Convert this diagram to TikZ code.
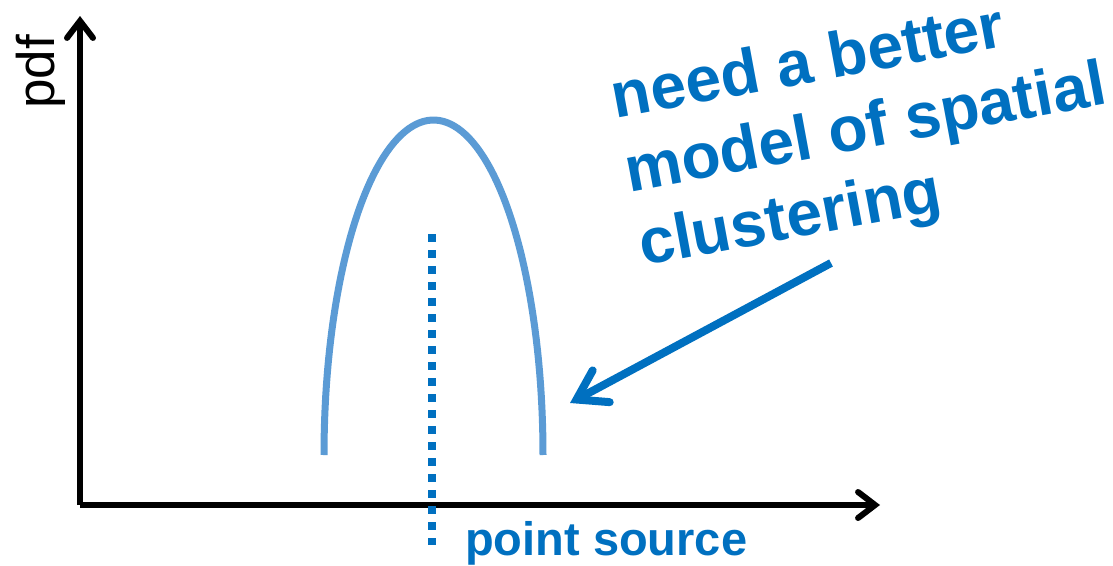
\documentclass[tikz,border=0pt]{standalone}
\usepackage{fontspec}
\setmainfont{Liberation Sans}
\usepackage{tikz}
\usetikzlibrary{arrows.meta}
\definecolor{curveblue}{RGB}{91,155,213}
\definecolor{noteblue}{RGB}{0,112,192}

\begin{document}
\begin{tikzpicture}[x=1pt,y=-1pt]
  \tikzstyle{axis}=[line width=6pt,-{Straight Barb[length=17pt,width=26pt,line cap=round]}]
  \tikzstyle{pointer}=[noteblue,line width=8pt,-{Straight Barb[length=28pt,width=36pt,line cap=round]}]
  \tikzstyle{note}=[noteblue,font=\bfseries\fontsize{64}{75}\selectfont,align=left,inner sep=0pt]

  \useasboundingbox (0,0) rectangle (1113,565);

  \coordinate (O) at (80,505);
  \coordinate (Y) at (80,16);
  \coordinate (X) at (880,505);

  \draw[axis] (O) -- (Y);
  \draw[axis] (O) -- (X);

  \draw (54,109) node[rotate=90,anchor=base west,inner sep=0pt,font=\fontsize{53}{60}\selectfont] (pdf) {pdf};

  % the density
  \draw[curveblue,line width=7pt] plot[domain=180:0,samples=90] ({433.5+109.5*cos(\x)},{455-335*sin(\x)});

  \coordinate (S1) at (432,234);
  \coordinate (S2) at (432,545);
  \draw[noteblue,line width=8pt,dash pattern=on 8pt off 8pt] (S1) -- (S2);

  \draw (465,555) node[anchor=base west,inner sep=0pt,noteblue,font=\bfseries\fontsize{47}{50}\selectfont] (src) {point source};

  \draw (643,266) node[note,rotate=10.5,anchor=base west] (msg) {need a better\\model of spatial\\clustering};

  \coordinate (T1) at (831,263);
  \coordinate (T2) at (570,403);
  \draw[pointer] (T1) -- (T2);

\end{tikzpicture}
\end{document}
